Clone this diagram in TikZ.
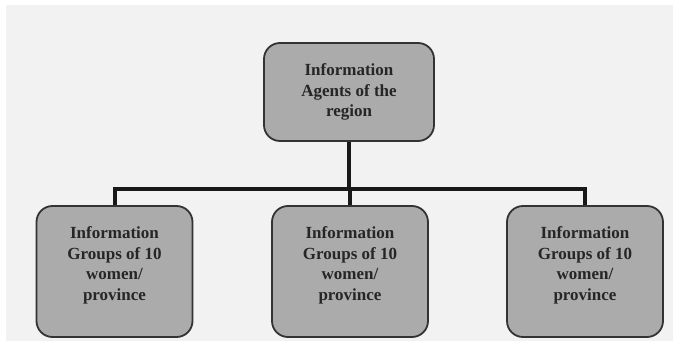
\documentclass[tikz,border=0pt]{standalone}
\usepackage{fontspec}
\setmainfont{Liberation Serif}
\begin{document}
\begin{tikzpicture}[x=1pt,y=1pt,
  panel/.style={fill=black!5, draw=none},
  infobox/.style={draw=black!80, line width=1.8pt, fill=black!33,
    rounded corners=16pt, align=center, text=black!85,
    font=\fontsize{17}{20.5}\selectfont\bfseries, inner sep=0pt},
  link/.style={draw=black!90, line width=4pt}]
  \useasboundingbox (0,0) rectangle (681,348);
  \fill[white] (0,0) rectangle (681,348);
  \path[panel] (6,7) rectangle (673,343);

  % top level
  \node[infobox, minimum width=170pt, minimum height=98pt] (top) at (349,256)
    {Information\\Agents of the\\region};

  % lower level
  \foreach \n/\x in {left/114.5, mid/350, right/585} {
    \node[infobox, minimum width=156pt, minimum height=131pt] (\n) at (\x,76.5)
      {Information\\Groups of 10\\women/\\province\\[-5pt]\mbox{}};
  }

  % tree connectors
  \coordinate (bar) at (349,159);
  \draw[link] (top.south) -- (bar);
  \draw[link] (left.north) |- (bar) -| (right.north);
  \draw[link] (mid.north) -- (mid.north |- bar);
\end{tikzpicture}
\end{document}
